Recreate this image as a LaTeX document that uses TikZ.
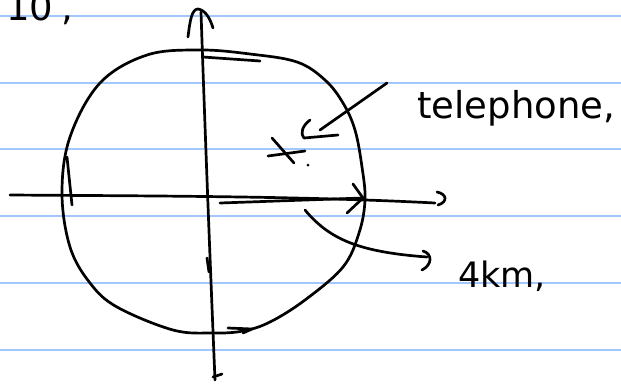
\documentclass[tikz,border=0pt]{standalone}
\usepackage{fontspec}
\setmainfont{DejaVu Sans}
\begin{document}
\begin{tikzpicture}[x=1pt,y=-1pt,
  ink/.style={line width=2.7pt, line cap=round, line join=round},
  rule/.style={draw={rgb,255:red,160;green,200;blue,255}, line width=2pt},
  hand/.style={font=\fontsize{37}{42}\selectfont, inner sep=0pt, anchor=base west}]
\useasboundingbox (0,0) rectangle (621,386);
\fill[white] (0,0) rectangle (621,386);
\foreach \y in {16,83,149,216,283,350} \draw[rule] (0,\y) -- (621,\y);
% circle
\draw[ink] plot[smooth cycle, tension=0.6] coordinates {(200,50) (250,54) (297,62) (325,80) (343,103) (355,130) (362,167) (365,200) (359,233) (343,267) (305,300) (270,322) (243,331) (213,333) (173,330) (117,307) (90,283) (70,247) (62,193) (70,137) (100,83) (147,55)};
% named points
\coordinate (hL) at (10,195);
\coordinate (hR) at (435,203);
\coordinate (vT) at (201,12);
\coordinate (vB) at (215,380);
\coordinate (O) at (220,203);
\coordinate (P) at (363,198);
% axes
\draw[ink] (hL) .. controls (150,196) and (300,196) .. (hR);
\draw[ink] (437,192) .. controls (447,194) and (448,202) .. (438,205);
\draw[ink] (vT) .. controls (205,130) and (210,260) .. (vB);
\draw[ink] (188,37) .. controls (190,20) and (192,9) .. (198,9) .. controls (205,10) and (210,18) .. (213,28);
\draw[ink] (213,377) -- (222,374);
\draw[ink] (207,258) -- (209,272);
% radius arrow
\draw[ink] (O) -- (P);
\draw[ink] (353,184) -- (P) -- (347,213);
% direction marks on circle
\draw[ink] (203,57) -- (260,61);
\draw[ink] (67,157) -- (72,205);
\draw[ink] (228,328) -- (252,329) -- (243,333);
% x mark
\draw[ink] (272,138) -- (294,163);
\draw[ink] (268,156) -- (305,151);
\fill (308,165) circle (1.5pt);
% labels
\node[hand] (tel) at (417,118) {telephone,};
\node[hand, font=\fontsize{35}{40}\selectfont] (km) at (458,287) {4km,};
\node[hand] (ten) at (6,20) {10\kern8pt,};
% telephone arrow
\coordinate (tT) at (387,83);
\coordinate (tH) at (320,130);
\draw[ink] (tT) -- (tH);
\draw[ink] (310,120) .. controls (302,126) and (300,134) .. (304,138) -- (338,135);
% 4km arrow
\coordinate (kS) at (305,210);
\coordinate (kE) at (427,257);
\draw[ink] (kS) .. controls (330,240) and (360,252) .. (kE);
\draw[ink] (423,251) .. controls (433,254) and (432,265) .. (422,270);
\end{tikzpicture}
\end{document}
